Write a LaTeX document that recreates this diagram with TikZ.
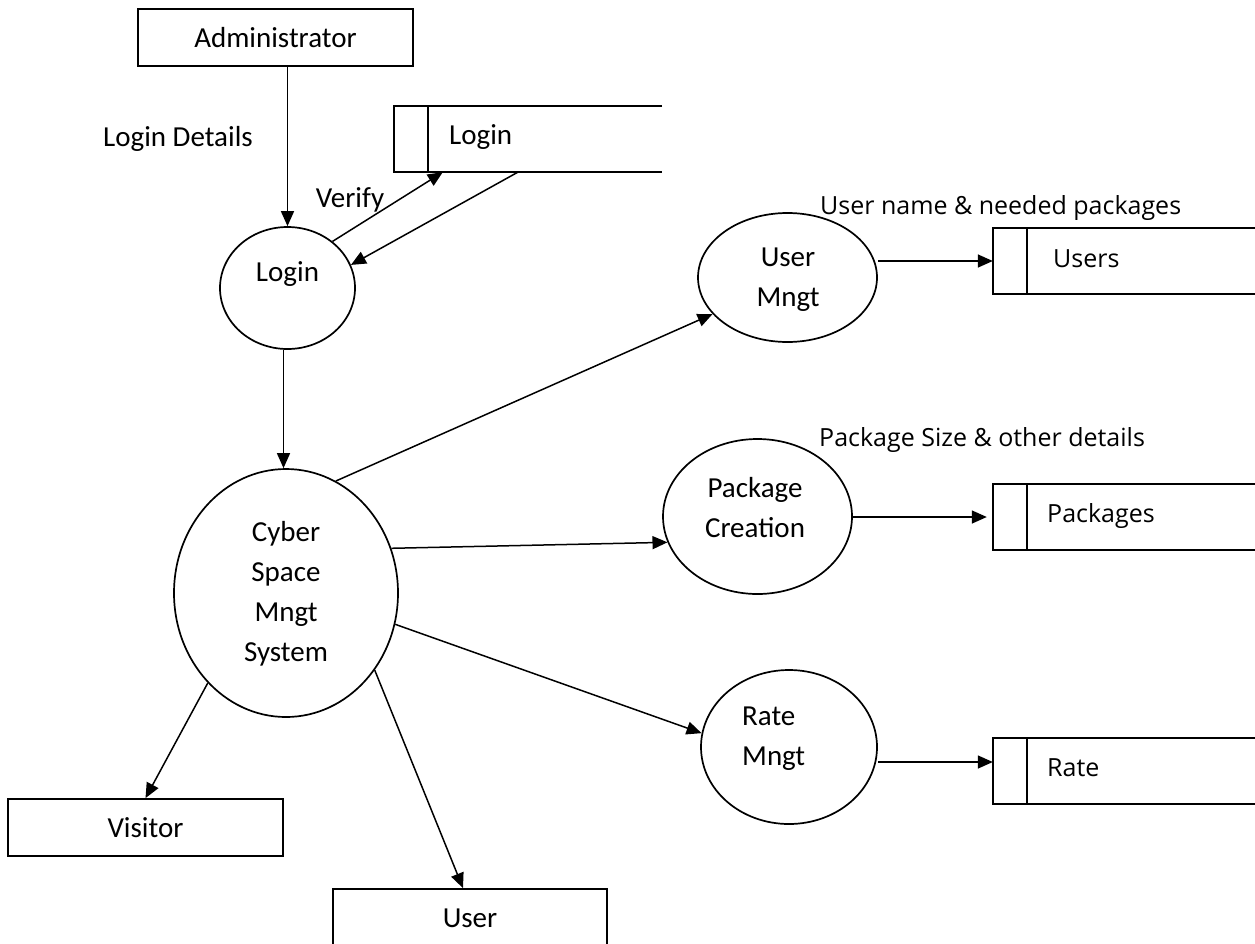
\documentclass[tikz,border=0pt]{standalone}
\usepackage{fontspec}
\setmainfont{Carlito}
\newfontfamily\lblfont{Open Sans}
\usetikzlibrary{arrows.meta,shapes.geometric}
\begin{document}
\begin{tikzpicture}[x=1pt,y=-1pt,
  every node/.style={font=\fontsize{29}{40}\selectfont},
  txt/.style={inner sep=0pt, text height=19pt, text depth=0pt},
  lbl/.style={inner sep=0pt, font=\lblfont\fontsize{25}{30}\selectfont, text height=18pt, text depth=0pt},
  ml/.style={inner sep=0pt, align=center, font=\fontsize{29}{40}\selectfont},
  entity/.style={draw, line width=1.8pt, rectangle, inner sep=0pt, minimum width=275pt, minimum height=57pt, text height=19pt, text depth=0pt},
  proc/.style={draw, line width=1.7pt, ellipse, inner sep=0pt},
  store/.style={rectangle, inner sep=0pt, minimum height=66pt},
  storeline/.style={line width=1.8pt},
  flow/.style={line width=1.5pt, -{Triangle[length=15pt,width=13pt]}}
]
\useasboundingbox (0,0) rectangle (1255,943);
\clip (0,0) rectangle (1255,943);

% external entities
\node[entity] (admin) at (275.5,37.5) {Administrator};
\node[entity] (visitor) at (145.5,827.5) {Visitor};
\node[entity, minimum width=274pt] (user) at (470,917.5) {User};

% data stores (open on the right)
\node[store, minimum width=268pt] (ls) at (528,139) {};
\node[store, minimum width=272pt] (users) at (1129,261) {};
\node[store, minimum width=272pt] (packages) at (1129,517) {};
\node[store, minimum width=272pt] (rate) at (1129,771) {};
\foreach \s in {ls,users,packages,rate}{
  \draw[storeline] (\s.north east) -- (\s.north west) -- (\s.south west) -- (\s.south east);
  \draw[storeline] ([xshift=34.5pt]\s.north west) -- ([xshift=34.5pt]\s.south west);
}
\node[txt, anchor=west] (lstxt) at (449,135) {Login};
\node[lbl, anchor=west] (userstxt) at (1053,258) {Users};
\node[lbl, anchor=west] (packagestxt) at (1047,513) {Packages};
\node[lbl, anchor=west] (ratetxt) at (1047,767) {Rate};

% processes
\node[proc, minimum width=135pt, minimum height=122pt] (login) at (287.5,288) {};
\node[txt] (logintxt) at (287.5,272) {Login};
\node[proc, minimum width=224pt, minimum height=248pt] (cyber) at (286,593) {};
\node[ml] (cybertxt) at (286,594) {Cyber\\Space\\Mngt\\System};
\node[proc, minimum width=179pt, minimum height=129pt] (um) at (787.5,277.5) {};
\node[ml] (umtxt) at (788,280) {User\\Mngt};
\node[proc, minimum width=189pt, minimum height=155pt] (pc) at (757.5,516.5) {};
\node[ml] (pctxt) at (755,508) {Package\\Creation};
\node[proc, minimum width=176pt, minimum height=154pt] (rm) at (789,747) {};
\node[ml, align=left, anchor=west] (rmtxt) at (742,739) {Rate\\Mngt};

% labels
\node[txt] (ld) at (178,137) {Login Details};
\node[txt] (verify) at (350,198) {Verify};
\node[lbl, anchor=west] (unlbl) at (820,205) {User name \& needed packages};
\node[lbl, anchor=west] (pslbl) at (819,437) {Package Size \& other details};

% flows
\coordinate (ratein) at ([yshift=9pt]rate.west);
\draw[flow] (admin.south -| login.north) -- (login.north);
\draw[flow] (login.46) -- ([xshift=49pt]ls.south west);
\draw[flow] ([xshift=124pt]ls.south west) -- (login.20);
\draw[flow] ([xshift=-4pt]login.south) -- ([xshift=-4pt]login.south |- cyber.north);
\draw[flow] (cyber.66) -- (um.206);
\draw[flow] (cyber.23) -- (pc.196);
\draw[flow] (cyber.-16) -- (rm.171);
\draw[flow] (cyber.229) -- (visitor.north);
\draw[flow] (cyber.-41) -- ([xshift=-7pt]user.north);
\draw[flow] (um.east |- users.west) -- (users.west);
\draw[flow] (pc.east |- packages.west) -- ([xshift=-6pt]packages.west);
\draw[flow] (rm.east |- ratein) -- (ratein);
\end{tikzpicture}
\end{document}
